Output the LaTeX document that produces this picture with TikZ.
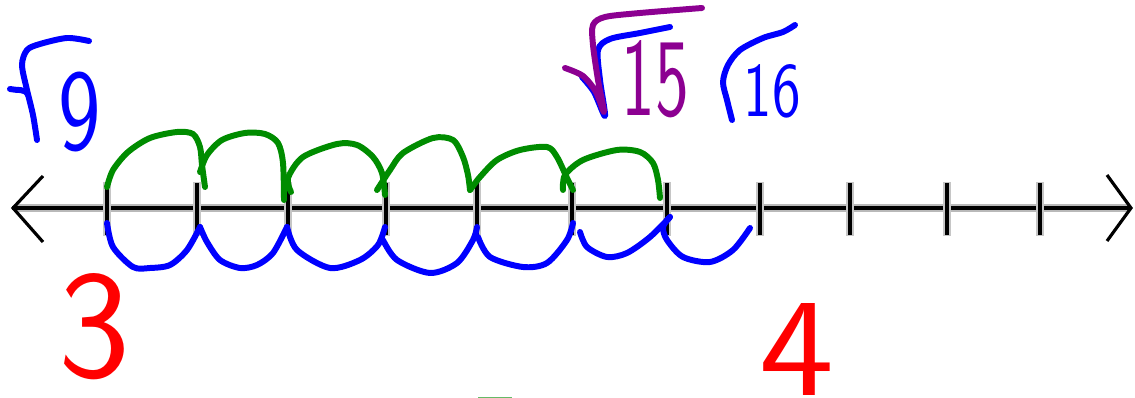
\documentclass[tikz,border=0pt]{standalone}
\usepackage{graphicx}
\definecolor{pengreen}{RGB}{0,140,0}
\definecolor{penblue}{RGB}{0,0,255}
\definecolor{penred}{RGB}{255,0,0}
\definecolor{penpurple}{RGB}{140,0,145}
\begin{document}
\begin{tikzpicture}[x=0.02cm,y=-0.02cm,
  pen/.style={line width=3.4pt,line cap=round,line join=round},
  label/.style={inner sep=0pt,font=\sffamily}]
  \useasboundingbox (0,0) rectangle (1135,398);

  % number line
  \draw[gray!55,line width=5pt] (14,208) -- (1130,208);
  \draw[line width=2.2pt] (12,208) -- (1131,208);
  \draw[line width=1.8pt] (43,176) -- (13,208) -- (43,242);
  \draw[line width=1.8pt] (1107,175) -- (1131,208) -- (1107,241);
  \foreach \x in {107,197,288,386,477,572,667,760,850,947,1040} {
    \draw[gray!45,line width=4.5pt] (\x,182) -- (\x,236);
    \draw[line width=2.4pt] (\x,183) -- (\x,235);
  }

  % hops above
  \draw[pen,pengreen,smooth] plot coordinates {(107,187) (113,170) (128,152) (150,138) (177,132) (193,134) (200,147) (202,165) (205,187)};
  \draw[pen,pengreen,smooth] plot coordinates {(200,172) (207,155) (222,140) (245,133) (265,134) (278,143) (283,163) (284,200)};
  \draw[pen,pengreen,smooth] plot coordinates {(291,192) (288,178) (303,157) (337,144) (357,145) (373,157) (382,173) (385,195)};
  \draw[pen,pengreen,smooth] plot coordinates {(377,190) (390,170) (403,153) (433,138) (453,140) (463,157) (468,175) (470,190)};
  \draw[pen,pengreen,smooth] plot coordinates {(470,190) (480,177) (497,160) (520,150) (547,147) (557,157) (567,178) (573,190)};
  \draw[pen,pengreen,smooth] plot coordinates {(563,190) (565,175) (583,160) (617,150) (640,152) (653,163) (658,180) (660,198)};

  % hops below
  \draw[pen,penblue,smooth] plot coordinates {(107,223) (113,247) (133,267) (150,268) (170,265) (187,250) (200,227)};
  \draw[pen,penblue,smooth] plot coordinates {(200,227) (207,242) (220,260) (240,268) (257,265) (273,253) (287,227)};
  \draw[pen,penblue,smooth] plot coordinates {(287,227) (297,250) (330,268) (360,260) (378,245) (385,227)};
  \draw[pen,penblue,smooth] plot coordinates {(383,240) (397,260) (430,273) (457,263) (473,240) (477,227)};
  \draw[pen,penblue,smooth] plot coordinates {(478,237) (490,257) (523,267) (547,263) (567,240) (573,223)};
  \draw[pen,penblue,smooth] plot coordinates {(580,232) (587,247) (607,257) (627,253) (650,237) (670,217)};
  \draw[pen,penblue,smooth] plot coordinates {(670,217) (663,227) (667,240) (683,257) (710,262) (733,250) (750,228)};

  % bit of green at the bottom edge
  \draw[pengreen!60,line width=1pt] (478,397.5) -- (512,397.5);

  % root signs
  \draw[pen,penblue] (10,89) to[out=-15,in=110] (28,95);
  \draw[pen,penblue,smooth] plot coordinates {(37,140) (33,115) (27,90) (22,65) (27,50) (40,44) (67,38) (89,41)};
  \draw[pen,penblue,smooth] plot coordinates {(582,77) (594,92) (605,116) (600,80) (598,50) (610,39) (640,33) (670,27)};
  \draw[pen,penpurple,smooth] plot coordinates {(565,68) (583,76) (596,92) (604,112) (598,80) (593,45) (593,25) (605,17) (640,13) (702,8)};
  \draw[pen,penblue,smooth] plot coordinates {(732,120) (727,100) (723,82) (728,65) (740,50) (763,38) (783,32) (795,25)};

  % numbers
  \node[label,text=penblue] (nine) at (80,112) {\resizebox{0.85cm}{1.55cm}{9}};
  \node[label,text=penpurple] (fifteen) at (655,79) {\resizebox{1.35cm}{1.5cm}{15}};
  \node[label,text=penblue] (sixteen) at (772,91) {\resizebox{1.14cm}{1.04cm}{16}};
  \node[label,text=penred] (three) at (94,327) {\resizebox{1.44cm}{2.06cm}{3}};
  \node[label,text=penred] (four) at (797,349) {\resizebox{1.5cm}{1.84cm}{4}};
\end{tikzpicture}
\end{document}
